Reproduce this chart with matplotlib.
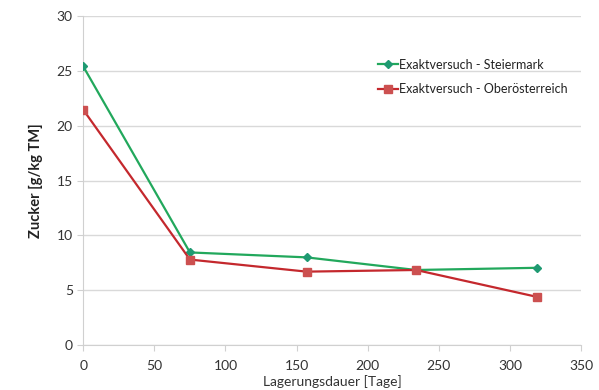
import matplotlib
matplotlib.use("Agg")
import matplotlib.pyplot as plt

days = [0, 75, 157, 234, 319]
steiermark = [25.4, 8.45, 8.0, 6.85, 7.05]
oberoesterreich = [21.45, 7.8, 6.7, 6.85, 4.4]
xticks = [0, 50, 100, 150, 200, 250, 300, 350]
yticks = [0, 5, 10, 15, 20, 25, 30]

plt.rcParams['font.family'] = ['Lato', 'DejaVu Sans']

fig = plt.figure(figsize=(5.99, 3.90), dpi=100)
ax = fig.add_axes([0.139, 0.115, 0.831, 0.844])

ax.plot(days, steiermark, color='#22a85c', lw=1.6, marker='D', ms=4,
        mfc='#1f9a72', mec='#1f9a72', label='Exaktversuch - Steiermark', zorder=3)
ax.plot(days, oberoesterreich, color='#c4282d', lw=1.6, marker='s', ms=5.5,
        mfc='#cc5050', mec='#cc5050', label='Exaktversuch - Oberösterreich', zorder=3)

ax.set_xlim(0, 350)
ax.set_ylim(0, 30)
ax.set_xticks(xticks)
ax.set_yticks(yticks)
ax.grid(axis='y', color='#d9d9d9', lw=1)
ax.set_axisbelow(True)
for s in ['top', 'right']:
    ax.spines[s].set_visible(False)
for s in ['left', 'bottom']:
    ax.spines[s].set_color('#d0d0d0')
ax.tick_params(axis='both', colors='#d0d0d0', labelcolor='#333333', labelsize=10, length=4)
ax.tick_params(axis='x', pad=7)

ax.set_xlabel('Lagerungsdauer [Tage]', fontsize=10, color='#333333', labelpad=2)
ax.set_ylabel('Zucker [g/kg TM]', fontsize=10.5, fontweight='bold', color='#222222', labelpad=10)

leg = ax.legend(loc='upper left', bbox_to_anchor=(0.57, 0.905), frameon=False,
                fontsize=9, handlelength=1.6, handletextpad=0.1, labelspacing=1.0,
                labelcolor='#222222')

fig.savefig('out.png', dpi=100)
